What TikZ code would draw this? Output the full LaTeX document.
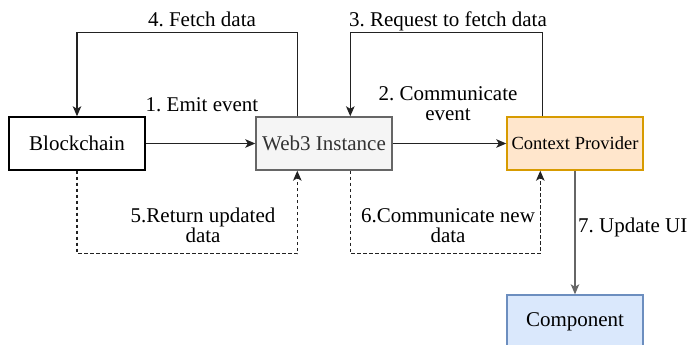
\documentclass[tikz,border=0pt]{standalone}
\usepackage{fontspec}
\setmainfont{Liberation Serif}
\newfontfamily\diagramface{Liberation Serif}
\usetikzlibrary{arrows.meta}
\definecolor{webfill}{HTML}{F5F5F5}
\definecolor{webline}{HTML}{666666}
\definecolor{webtext}{HTML}{333333}
\definecolor{ctxfill}{HTML}{FFE6CC}
\definecolor{ctxline}{HTML}{D79B00}
\definecolor{compfill}{HTML}{DAE8FC}
\definecolor{compline}{HTML}{6C8EBF}
\definecolor{wire}{HTML}{222222}
\frenchspacing
\begin{document}
\begin{tikzpicture}[x=1pt,y=-1pt,
  font=\diagramface\fontsize{21}{20}\selectfont\frenchspacing,
  box/.style={draw=black, line width=1.4pt, minimum width=136pt, minimum height=53pt, inner sep=0pt},
  flow/.style={draw=wire, line width=1.3pt, -{Stealth[length=10pt,width=8.5pt,inset=2.5pt]}},
  back/.style={flow, dash pattern=on 3.5pt off 2.5pt},
  lbl/.style={inner sep=0pt, align=center, anchor=base}]
\useasboundingbox (0,0) rectangle (689,345);

% components
\node[box] (chain) at (77,143.5) {Blockchain};
\node[box, fill=webfill, draw=webline, text=webtext] (web3) at (324,143.5) {Web3 Instance};
\node[box, fill=ctxfill, draw=ctxline, font=\diagramface\fontsize{18.5}{20}\selectfont] (ctx) at (575,143.5) {Context Provider};
\node[box, fill=compfill, draw=compline] (comp) at (575,321.5) {Component};

% forward flow
\draw[flow] (chain.east) -- (web3.west);
\draw[flow] (web3.east) -- (ctx.west);
\draw[flow] ([xshift=42pt]web3.north west) -- ++(0,-84) -| (chain.north);
\draw[flow] ([xshift=36pt]ctx.north west) -- ++(0,-84) -| ([xshift=95pt]web3.north west);
\draw[flow, draw=webline] (ctx.south) -- (comp.north);

% return flow
\draw[back] (chain.south) -- ++(0,83) -| ([xshift=42pt]web3.south west);
\draw[back] ([xshift=95pt]web3.south west) -- ++(0,83) -| ([xshift=34pt]ctx.south west);

% labels (multi-line labels sit on the baseline of their last line)
\node[lbl] (l1) at (202,111) {1. Emit event};
\node[lbl] (l2) at (448,121) {2. Communicate\\event};
\node[lbl] (l3) at (448,27) {3. Request to fetch data};
\node[lbl] (l4) at (202,27) {4. Fetch data};
\node[lbl] (l5) at (203,242) {5.Return updated\\data};
\node[lbl] (l6) at (448,242) {6.Communicate new\\data};
\node[lbl, anchor=base west] (l7) at (578,232) {7. Update UI};
\end{tikzpicture}
\end{document}
